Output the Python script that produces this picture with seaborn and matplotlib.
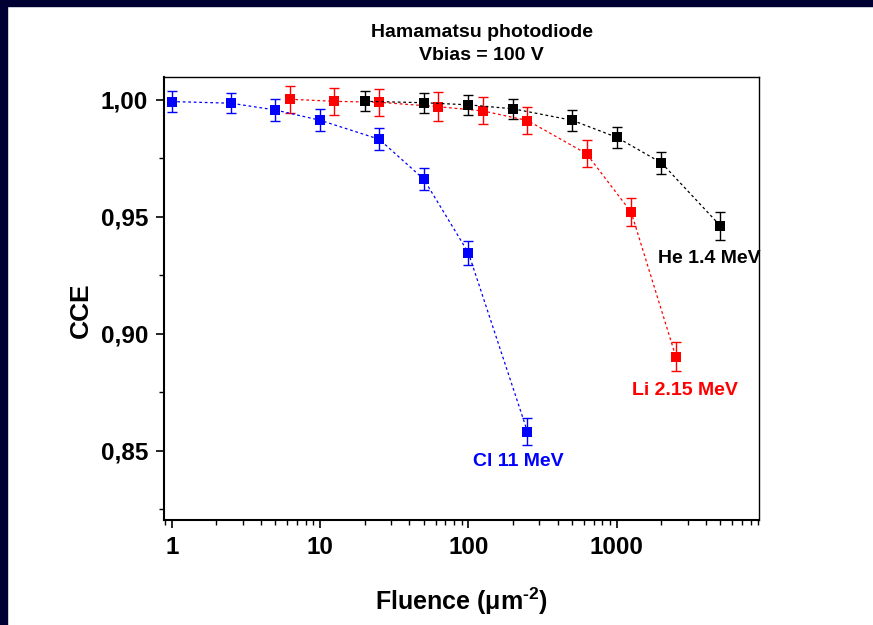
import numpy as np
import pandas as pd
import matplotlib
matplotlib.use('Agg')
import matplotlib.pyplot as plt
import matplotlib.ticker as ticker
from matplotlib.patches import Rectangle
import seaborn as sns

# Datos: fluencia (um^-2), CCE y su error.
Fluencia_Cl = [1, 2.5, 5, 10, 25, 50, 100, 250]
CCE_Cl = [0.9993, 0.9986, 0.9957, 0.9913, 0.9832, 0.9661, 0.9346, 0.8581]
Error_Cl = [0.0044, 0.0043, 0.0046, 0.0047, 0.0046, 0.0047, 0.0050, 0.0057]

Fluencia_Li = [6.25, 12.5, 25, 62.5, 125, 250, 625, 1250, 2500]
CCE_Li = [1.0003, 0.9994, 0.9990, 0.9971, 0.9953, 0.9912, 0.9770, 0.9520, 0.8902]
Error_Li = [0.0057, 0.0057, 0.0057, 0.0062, 0.0058, 0.0057, 0.0058, 0.0059, 0.0063]

Fluencia_He = [20, 50, 100, 200, 500, 1000, 2000, 5000]
CCE_He = [0.9994, 0.9988, 0.9979, 0.9962, 0.9913, 0.9840, 0.9731, 0.9461]
Error_He = [0.0043, 0.0043, 0.0044, 0.0043, 0.0044, 0.0045, 0.0048, 0.0058]

Series = [
    ('Cl 11 MeV', Fluencia_Cl, CCE_Cl, Error_Cl, '#0000ff', (107.6, 0.8436)),
    ('Li 2.15 MeV', Fluencia_Li, CCE_Li, Error_Li, '#ff0000', (1271, 0.8738)),
    ('He 1.4 MeV', Fluencia_He, CCE_He, Error_He, '#000000', (1901, 0.9304)),
]

sns.set_theme(style='ticks')
plt.rcParams['font.family'] = ['Liberation Sans', 'DejaVu Sans']
plt.rcParams['font.weight'] = 'bold'
plt.rcParams['mathtext.fontset'] = 'custom'
plt.rcParams['mathtext.rm'] = 'Liberation Sans:bold'
plt.rcParams['mathtext.bf'] = 'Liberation Sans:bold'

Figure = plt.figure(figsize=(8.73, 6.25), dpi=100)
Figure.patch.set_facecolor('white')

# Marco azul oscuro arriba y a la izquierda.
Figure.patches.append(Rectangle((0, 0), 7 / 873, 1, transform=Figure.transFigure,
                                color='#000033', zorder=0))
Figure.patches.append(Rectangle((0, 1 - 6 / 625), 1, 6 / 625, transform=Figure.transFigure,
                                color='#000033', zorder=0))

Grafico = Figure.add_axes([0.1879, 0.168, 0.6816, 0.7088])
Grafico.set_facecolor('white')

for Nombre, x, y, e, Color, Pos in Series:
    df = pd.DataFrame({'fluencia': x, 'cce': y})
    Grafico.errorbar(x, y, yerr=e, fmt='none', ecolor=Color, elinewidth=1.0,
                     capsize=3.6, capthick=1.0, zorder=3)
    sns.lineplot(data=df, x='fluencia', y='cce', ax=Grafico, color=Color,
                 marker='s', markersize=7.5, markeredgewidth=0, linewidth=0.9,
                 linestyle=(0, (2.2, 2.2)), zorder=4)
    Grafico.text(Pos[0], Pos[1], Nombre, color=Color, fontsize=14, fontweight='bold',
                 ha='left', va='baseline')

Grafico.set_xscale('log')
Grafico.set_xlim(0.887, 9100)
Grafico.set_ylim(0.8204, 1.0098)

Grafico.set_xticks([1, 10, 100, 1000])
Grafico.xaxis.set_major_formatter(ticker.FuncFormatter(lambda v, _: f'{int(round(v))}'))
Grafico.xaxis.set_minor_locator(ticker.LogLocator(base=10, subs=np.arange(2, 10), numticks=20))
Grafico.xaxis.set_minor_formatter(ticker.NullFormatter())

Grafico.set_yticks([0.85, 0.90, 0.95, 1.00])
Grafico.yaxis.set_minor_locator(ticker.FixedLocator([0.825, 0.875, 0.925, 0.975]))
Grafico.yaxis.set_major_formatter(ticker.FuncFormatter(lambda v, _: f'{v:.2f}'.replace('.', ',')))

Grafico.tick_params(axis='both', which='major', direction='out', length=5.5, width=1.2,
                    labelsize=17.5, pad=6, color='black', labelcolor='black')
Grafico.tick_params(axis='both', which='minor', direction='out', length=3.5, width=1.0,
                    color='black')
Grafico.tick_params(top=False, right=False, which='both')
for Label in Grafico.get_xticklabels() + Grafico.get_yticklabels():
    Label.set_fontweight('bold')

for Lado in ['left', 'bottom']:
    Grafico.spines[Lado].set_linewidth(1.5)
    Grafico.spines[Lado].set_color('black')
for Lado in ['top', 'right']:
    Grafico.spines[Lado].set_linewidth(1.0)
    Grafico.spines[Lado].set_color('black')

Grafico.set_xlabel(r'Fluence ($\mathregular{\mu}$m$^{\text{-2}}$)', fontsize=18,
                   fontweight='bold', color='black')
Grafico.set_ylabel('CCE', fontsize=19, fontweight='bold', color='black')
Grafico.xaxis.set_label_coords(0.5, -0.148)
Grafico.yaxis.set_label_coords(-0.12, 0.474)

Figure.text(481.7 / 873, 1 - 37.3 / 625, 'Hamamatsu photodiode', ha='center', va='baseline',
            fontsize=14, fontweight='bold', color='black')
Figure.text(481.7 / 873, 1 - 60.5 / 625, 'Vbias = 100 V', ha='center', va='baseline',
            fontsize=14, fontweight='bold', color='black')

plt.savefig('out.png', dpi=100)
